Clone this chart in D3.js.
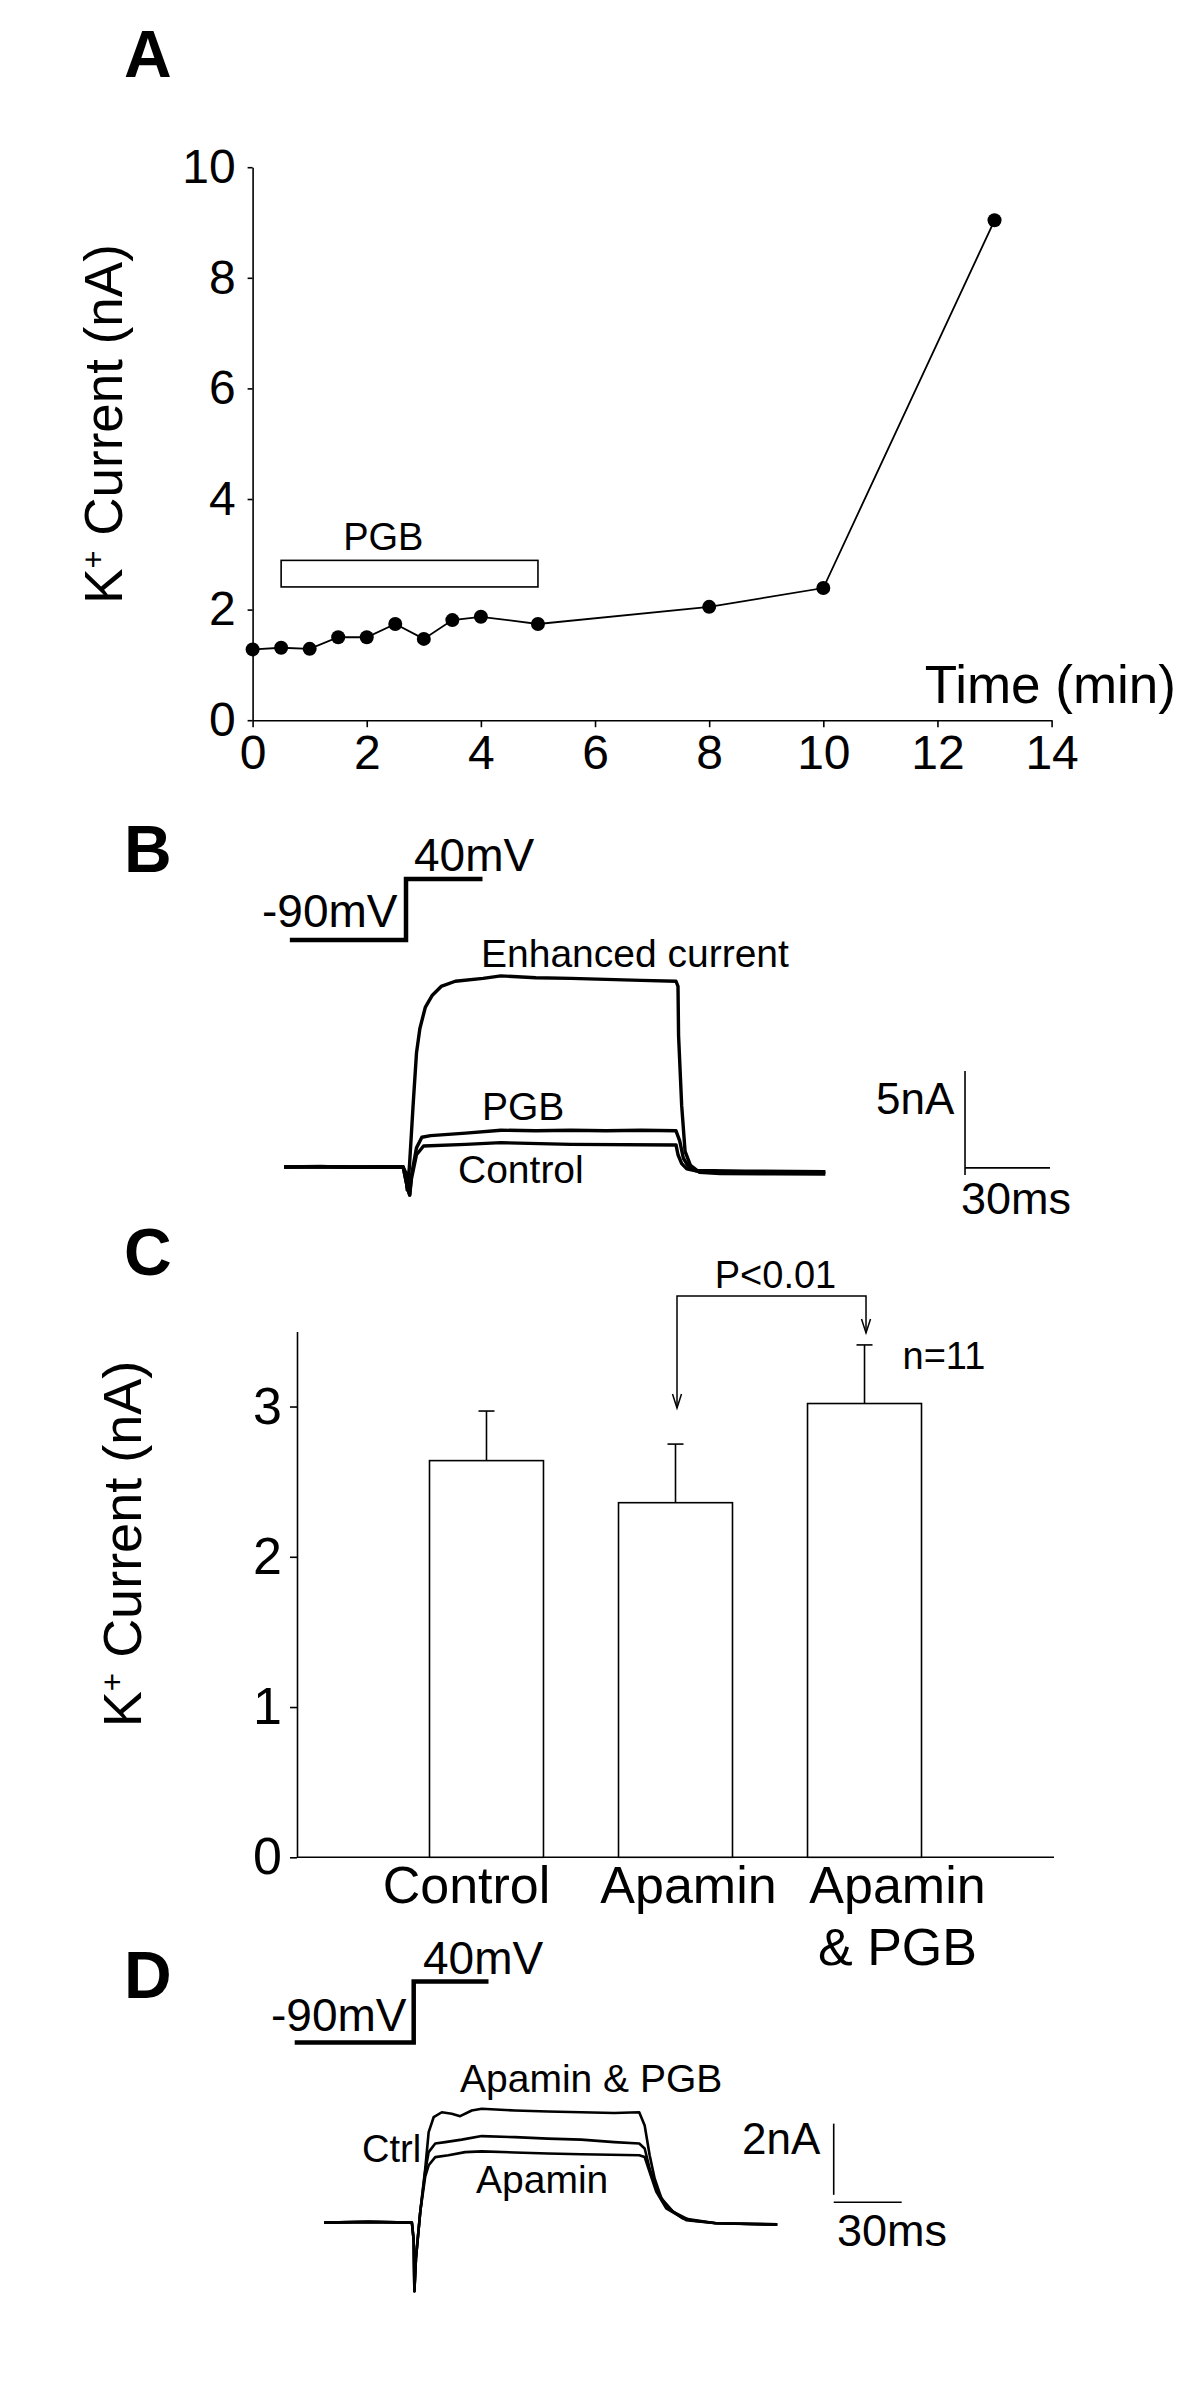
<!DOCTYPE html>
<html>
<head>
<meta charset="utf-8">
<script src="https://cdn.jsdelivr.net/npm/d3@7"></script>
<style>
  html, body { margin: 0; padding: 0; background: #fff; }
  svg { display: block; font-family: "Liberation Sans", Arial, sans-serif; }
</style>
</head>
<body>
<svg id="fig" width="1200" height="2401"></svg>
<script>
// ---------------- DATA ----------------
// Panel A: K+ current vs time
const timeMin   = [0, 0.5, 1, 1.5, 2, 2.5, 3, 3.5, 4, 5, 8, 10, 13];
const currentA  = [1.28, 1.31, 1.29, 1.50, 1.50, 1.74, 1.47, 1.81, 1.87, 1.74, 2.05, 2.39, 9.04];
const yTicksA   = [0, 2, 4, 6, 8, 10];
const xTicksA   = [0, 2, 4, 6, 8, 10, 12, 14];
const pgbPeriod = [0.5, 5.0];      // min
const pgbBarRange = [2.41, 2.89];  // nA (drawn box)

// Panel B: current traces [time (ms), current (nA)]
const stepB = [[-41, -90], [0, -90], [0, 40], [27, 40]];   // [ms, mV]
const traceEnhanced = [[-43,0],[-30,0.03],[-20,-0.02],[-10,0.02],[-1,0],[0,-0.3],[0.4,-1.1],[1.2,0],[2.5,2.95],[3.7,5.48],[4.9,6.66],[6.8,7.67],[9.3,8.26],[12.4,8.68],[17.4,8.93],[27.2,9.07],[33.5,9.19],[45.8,9.1],[58.2,9.07],[70.6,9.02],[83,8.97],[95.3,8.93],[96,8.68],[96.2,6.32],[97.3,2.95],[98.5,0.75],[100.4,0.08],[103.5,-0.25],[110.9,-0.31],[130,-0.33],[148,-0.34]];
const tracePGB = [[-43,0],[-25,0.02],[-1,0],[0.5,-1.0],[1.3,-1.35],[1.9,-0.42],[3.7,0.92],[5.6,1.43],[8.7,1.51],[21.1,1.63],[33.5,1.77],[45.8,1.74],[58.2,1.77],[70.6,1.74],[83,1.77],[95.3,1.74],[96.6,1.26],[97.9,0.42],[99.8,0],[102.2,-0.17],[120,-0.2],[148,-0.22]];
const traceControlB = [[-43,0],[-15,-0.02],[-1,0],[0.5,-1.0],[1.3,-1.35],[1.9,-0.59],[3.7,0.59],[6.2,1.01],[21.1,1.09],[33.5,1.17],[58.2,1.09],[95.3,1.06],[96,0.59],[97.3,0.16],[99.1,-0.09],[103.5,-0.22],[148,-0.25]];
const scaleBarB = {nA: 5, ms: 30};

// Panel C: bar chart
const categories = ["Control", "Apamin", "Apamin & PGB"];
const catLabelLines = [["Control"], ["Apamin"], ["Apamin", "& PGB"]];
const meanC = [2.64, 2.36, 3.02];
const semC  = [0.33, 0.39, 0.39];
const yTicksC = [0, 1, 2, 3];
const sigBracket = {from: "Apamin", to: "Apamin & PGB", top: 3.735, tipFrom: 2.99, tipTo: 3.49, label: "P<0.01"};
const nLabel = "n=11";

// Panel D: current traces [time (ms), current (nA)]
const stepD = [[-52.5, -90], [0, -90], [0, 40], [33, 40]];
const traceApaPGB = [[-39.5,0],[-20,0.02],[-0.8,0],[0,-0.5],[0.3,-1.93],[1,-1.0],[2.9,0.31],[5.1,1.52],[6.6,2.54],[8.8,2.96],[12.4,3.10],[16.8,3.06],[20.5,2.99],[25.6,3.15],[30,3.20],[44.6,3.15],[59.2,3.12],[73.9,3.10],[88.5,3.08],[99.5,3.10],[101.9,2.73],[104.1,1.89],[106.3,1.24],[109.3,0.68],[114.4,0.31],[121.7,0.07],[133.4,-0.02],[160.4,-0.06]];
const traceCtrlD = [[-39.5,0],[-20,0.02],[-0.8,0],[0,-0.5],[0.3,-1.93],[1,-1.0],[2.9,0.31],[5.1,1.45],[6.6,1.98],[9.5,2.22],[13.9,2.26],[21.2,2.33],[30,2.43],[44.6,2.40],[59.2,2.36],[73.9,2.33],[88.5,2.26],[99.5,2.22],[101.9,2.08],[104.1,1.52],[107,0.96],[111.4,0.45],[118.7,0.12],[133.4,-0.02],[160.4,-0.05]];
const traceApamin = [[-39.5,0],[-20,0.02],[-0.8,0],[0,-0.5],[0.3,-1.93],[1,-1.0],[2.9,0.31],[5.1,1.3],[6.6,1.61],[9.5,1.84],[15.3,1.89],[22.7,1.98],[30,2.0],[44.6,1.97],[59.2,1.94],[73.9,1.92],[99.5,1.89],[101.9,1.84],[104.1,1.42],[107,0.87],[111.4,0.40],[120.2,0.07],[133.4,-0.02],[160.4,-0.05]];
const scaleBarD = {nA: 2, ms: 30};

// ---------------- DRAWING ----------------
const svg = d3.select("#fig");
svg.append("rect").attr("width", 1200).attr("height", 2401).attr("fill", "#fff");
const FONT = "'Liberation Sans', Arial, sans-serif";

function panelLetter(txt, x, y) {
  svg.append("text").attr("x", x).attr("y", y).attr("font-size", 66)
    .attr("font-weight", "bold").attr("font-family", FONT).text(txt);
}
function label(txt, x, y, size, anchor) {
  return svg.append("text").attr("x", x).attr("y", y).attr("font-size", size)
    .attr("text-anchor", anchor || "start").attr("font-family", FONT).text(txt);
}
function yLabelK(x, y, size) {
  const t = svg.append("text").attr("transform", `translate(${x},${y}) rotate(-90)`)
    .attr("text-anchor", "middle").attr("font-size", size).attr("font-family", FONT);
  t.append("tspan").text("K");
  t.append("tspan").attr("font-size", size * 0.58).attr("dy", -size * 0.34).text("+");
  t.append("tspan").attr("dy", size * 0.34).text(" Current (nA)");
}
function styleAxis(g, fs) {
  g.selectAll("path.domain").attr("stroke", "#000").attr("stroke-width", 1.6);
  g.selectAll(".tick line").attr("stroke", "#000").attr("stroke-width", 1.6);
  g.selectAll(".tick text").attr("fill", "#000").attr("font-size", fs).attr("font-family", FONT);
}

// ===== Panel A =====
panelLetter("A", 124, 77);
const xA = d3.scaleLinear().domain([0, 14]).range([252.6, 1051.6]);
const yA = d3.scaleLinear().domain([0, 10]).range([720.2, 167.2]);

const gyA = svg.append("g").attr("transform", `translate(${xA(0)},0)`)
  .call(d3.axisLeft(yA).tickValues(yTicksA).tickSize(5).tickSizeOuter(0).tickPadding(12).tickFormat(d3.format("d")));
styleAxis(gyA, 48);
const gxA = svg.append("g").attr("transform", `translate(0,${yA(0)})`)
  .call(d3.axisBottom(xA).tickValues(xTicksA).tickSize(7).tickSizeOuter(0).tickPadding(8).tickFormat(d3.format("d")));
styleAxis(gxA, 48);

yLabelK(122, 424, 53);
label("Time (min)", 1176, 703, 53, "end");

// PGB application box
svg.append("rect")
  .attr("x", xA(pgbPeriod[0])).attr("y", yA(pgbBarRange[1]))
  .attr("width", xA(pgbPeriod[1]) - xA(pgbPeriod[0]))
  .attr("height", yA(pgbBarRange[0]) - yA(pgbBarRange[1]))
  .attr("fill", "none").attr("stroke", "#000").attr("stroke-width", 1.6);
label("PGB", xA(2.29), yA(3.08), 38, "middle");

const ptsA = timeMin.map((t, i) => [t, currentA[i]]);
svg.append("path").datum(ptsA)
  .attr("d", d3.line().x(d => xA(d[0])).y(d => yA(d[1])))
  .attr("fill", "none").attr("stroke", "#000").attr("stroke-width", 1.8);
svg.selectAll("circle.a").data(ptsA).enter().append("circle")
  .attr("cx", d => xA(d[0])).attr("cy", d => yA(d[1])).attr("r", 7).attr("fill", "#000");

// ===== Panel B =====
panelLetter("B", 124, 872);
const xB = d3.scaleLinear().domain([0, 30]).range([406, 491]);
const yB = d3.scaleLinear().domain([0, 5]).range([1167, 1063]);
const yVB = d3.scaleLinear().domain([-90, 40]).range([940, 879]);

svg.append("path").datum(stepB)
  .attr("d", d3.line().x(d => xB(d[0])).y(d => yVB(d[1])))
  .attr("fill", "none").attr("stroke", "#000").attr("stroke-width", 4.5).attr("stroke-linejoin", "miter");
label("40mV", 414, 871, 46);
label("-90mV", 262, 927, 46);

const lineB = d3.line().x(d => xB(d[0])).y(d => yB(d[1]));
[traceControlB, tracePGB, traceEnhanced].forEach(tr => {
  svg.append("path").datum(tr).attr("d", lineB)
    .attr("fill", "none").attr("stroke", "#000").attr("stroke-width", 3.4)
    .attr("stroke-linejoin", "round");
});
label("Enhanced current", 481, 967, 39);
label("PGB", 482, 1120, 39);
label("Control", 458, 1183, 39);

// scale bars B
const sbBt = 197.3, sbBlo = -0.38, sbBh = -0.04;
svg.append("line").attr("x1", xB(sbBt)).attr("x2", xB(sbBt))
  .attr("y1", yB(sbBlo)).attr("y2", yB(sbBlo + scaleBarB.nA))
  .attr("stroke", "#000").attr("stroke-width", 1.6);
svg.append("line").attr("x1", xB(sbBt)).attr("x2", xB(sbBt + scaleBarB.ms))
  .attr("y1", yB(sbBh)).attr("y2", yB(sbBh))
  .attr("stroke", "#000").attr("stroke-width", 1.6);
label("5nA", 876, 1114, 44);
label("30ms", 961, 1214, 45);

// ===== Panel C =====
panelLetter("C", 124, 1275);
const xC = d3.scaleBand().domain(categories).range([297, 1054]).paddingInner(0.397).paddingOuter(0.701);
const yC = d3.scaleLinear().domain([0, 3.5]).range([1857.3, 1331.4]);
const bw = xC.bandwidth();

const gyC = svg.append("g").attr("transform", `translate(297,0)`)
  .call(d3.axisLeft(yC).tickValues(yTicksC).tickSize(7).tickSizeOuter(0).tickPadding(8).tickFormat(d3.format("d")));
styleAxis(gyC, 52);
svg.append("line").attr("x1", xC.range()[0]).attr("x2", xC.range()[1])
  .attr("y1", yC(0)).attr("y2", yC(0)).attr("stroke", "#000").attr("stroke-width", 1.6);

yLabelK(141, 1544, 54);

const barData = categories.map((c, i) => ({c, m: meanC[i], e: semC[i]}));
// error bars
barData.forEach(d => {
  const cx = xC(d.c) + bw / 2;
  svg.append("line").attr("x1", cx).attr("x2", cx).attr("y1", yC(d.m)).attr("y2", yC(d.m + d.e))
    .attr("stroke", "#000").attr("stroke-width", 1.6);
  svg.append("line").attr("x1", cx - 8).attr("x2", cx + 8).attr("y1", yC(d.m + d.e)).attr("y2", yC(d.m + d.e))
    .attr("stroke", "#000").attr("stroke-width", 1.6);
});
svg.selectAll("rect.bar").data(barData).enter().append("rect")
  .attr("x", d => xC(d.c)).attr("y", d => yC(d.m))
  .attr("width", bw).attr("height", d => yC(0) - yC(d.m))
  .attr("fill", "#fff").attr("stroke", "#000").attr("stroke-width", 1.6);

// category labels
const catLabelDx = [-20, 13, 33];
catLabelLines.forEach((lines, i) => {
  const cx = xC(categories[i]) + bw / 2 + catLabelDx[i];
  lines.forEach((ln, j) => label(ln, cx, 1903 + j * 62, 52, "middle"));
});

// significance bracket
const bx1 = xC(sigBracket.from) + bw / 2 + 1.5;
const bx2 = xC(sigBracket.to) + bw / 2 + 1.5;
svg.append("path")
  .attr("d", `M${bx1},${yC(sigBracket.tipFrom)} V${yC(sigBracket.top)} H${bx2} V${yC(sigBracket.tipTo)}`)
  .attr("fill", "none").attr("stroke", "#000").attr("stroke-width", 1.5);
[[bx1, yC(sigBracket.tipFrom)], [bx2, yC(sigBracket.tipTo)]].forEach(([x, y]) => {
  svg.append("path").attr("d", `M${x - 4.5},${y - 14} L${x},${y} L${x + 4.5},${y - 14}`)
    .attr("fill", "none").attr("stroke", "#000").attr("stroke-width", 1.5);
});
label(sigBracket.label, (bx1 + bx2) / 2 + 4, 1288, 38, "middle");
label(nLabel, xC("Apamin & PGB") + bw / 2 + 38, 1369, 38);

// ===== Panel D =====
panelLetter("D", 124, 1998);
const xD = d3.scaleLinear().domain([0, 30]).range([413.7, 481.7]);
const yD = d3.scaleLinear().domain([0, 2]).range([2222.6, 2151.4]);
const yVD = d3.scaleLinear().domain([-90, 40]).range([2042.5, 1981.5]);

svg.append("path").datum(stepD)
  .attr("d", d3.line().x(d => xD(d[0])).y(d => yVD(d[1])))
  .attr("fill", "none").attr("stroke", "#000").attr("stroke-width", 4.5).attr("stroke-linejoin", "miter");
label("40mV", 423, 1974, 46);
label("-90mV", 271, 2031, 46);

const lineD = d3.line().x(d => xD(d[0])).y(d => yD(d[1]));
[traceApamin, traceCtrlD, traceApaPGB].forEach(tr => {
  svg.append("path").datum(tr).attr("d", lineD)
    .attr("fill", "none").attr("stroke", "#000").attr("stroke-width", 2.6)
    .attr("stroke-linejoin", "round");
});
label("Apamin & PGB", 460, 2092, 39);
label("Ctrl", 362, 2162, 38);
label("Apamin", 476, 2193, 39);

const sbDt = 185.3, sbDlo = 0.78, sbDh = 0.57;
svg.append("line").attr("x1", xD(sbDt)).attr("x2", xD(sbDt))
  .attr("y1", yD(sbDlo)).attr("y2", yD(sbDlo + scaleBarD.nA))
  .attr("stroke", "#000").attr("stroke-width", 1.6);
svg.append("line").attr("x1", xD(sbDt)).attr("x2", xD(sbDt + scaleBarD.ms))
  .attr("y1", yD(sbDh)).attr("y2", yD(sbDh))
  .attr("stroke", "#000").attr("stroke-width", 1.6);
label("2nA", 742, 2154, 44);
label("30ms", 837, 2246, 45);
</script>
</body>
</html>
